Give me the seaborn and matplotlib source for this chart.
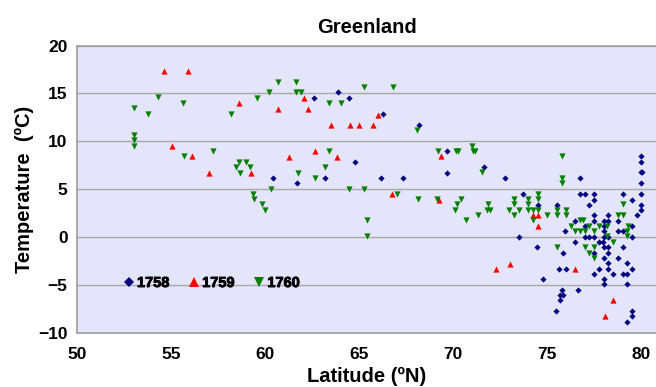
import matplotlib
matplotlib.use("Agg")
import matplotlib.pyplot as plt
import matplotlib.patheffects as pe
from matplotlib.lines import Line2D
import seaborn as sns
import pandas as pd

# ---- data: 1758 ----
lat_1758 = [62.57, 63.85, 64.47, 60.43, 61.69, 63.16, 64.75, 66.24, 68.15, 69.64, 69.64, 66.15, 67.30,
            71.65, 72.75, 76.74, 79.99, 79.99, 79.99, 80.06, 79.99, 79.99, 73.73, 76.74, 77.01, 77.50, 79.01,
            77.50, 79.49, 74.49, 75.50, 77.24, 79.99, 79.99, 77.50, 78.25, 79.76, 76.49, 77.50, 78.02, 78.25,
            78.74, 77.01, 78.02, 79.49, 75.93, 78.02, 78.74, 79.01, 73.50, 77.01, 77.24, 77.50, 78.02, 78.25,
            79.49,
            76.49, 77.75, 77.98, 74.44, 78.02, 78.25, 79.01, 75.84, 77.50, 78.25, 78.02, 78.74, 78.25, 79.26,
            75.64, 76.00, 77.75, 78.25, 79.49, 77.50, 78.51, 79.01, 79.26, 74.79, 78.02, 78.02, 79.26, 75.80,
            76.65, 75.68, 75.85, 75.68, 75.46, 79.49, 79.49, 79.26]
temp_1758 = [14.50, 15.10, 14.50, 6.16, 5.61, 6.16, 7.83, 12.84, 11.72, 9.01, 6.68, 6.16, 6.16,
             7.27, 6.16, 6.16, 8.42, 7.83, 6.75, 6.75, 5.64, 4.49, 4.49, 4.49, 4.49, 4.49, 4.49,
             3.90, 3.90, 3.38, 3.38, 3.38, 3.38, 2.86, 2.27, 2.27, 2.27, 1.71, 1.71, 1.71, 1.71,
             1.71, 1.12, 1.12, 1.12, 0.60, 0.60, 0.60, 0.60, 0.01, 0.01, 0.01, 0.01, 0.01, 0.01,
             0.01,
             -0.51, -0.51, -0.51, -1.07, -1.07, -1.07, -1.07, -1.66, -1.66, -1.66, -2.18, -2.18, -2.74, -2.74,
             -3.30, -3.30, -3.30, -3.30, -3.30, -3.85, -3.85, -3.85, -3.85, -4.37, -4.37, -4.96, -4.96, -5.52,
             -5.52, -6.08, -6.08, -6.63, -7.74, -7.74, -8.27, -8.86]

# ---- data: 1759 ----
lat_1759 = [54.61, 55.91, 58.62, 60.68, 62.04, 62.25, 63.51, 64.51, 65.00, 65.74, 65.97, 55.02, 56.08,
            56.99, 59.24, 61.24, 62.64, 63.83, 69.32, 66.75, 69.24, 74.26, 74.49, 74.49, 72.26, 73.02,
            76.49, 78.51, 78.09]
temp_1759 = [17.29, 17.29, 13.95, 13.39, 14.50, 13.39, 11.72, 11.72, 11.72, 11.72, 12.77, 9.53, 8.42,
             6.72, 6.72, 8.39, 8.94, 8.39, 8.42, 4.50, 3.90, 2.27, 2.27, 1.12, -3.30, -2.81,
             -3.30, -6.63, -8.30]

# ---- data: 1760 ----
lat_1760 = [54.31, 55.60, 53.02, 53.74, 58.19, 59.58, 60.20, 60.68, 61.63, 61.63, 61.90, 63.41, 64.01,
            53.02, 53.02, 53.02, 55.68, 57.24, 58.42, 58.58, 58.67, 58.99, 59.17, 60.32, 59.33, 59.42,
            59.84, 59.98, 61.74, 63.41, 63.18, 62.66, 64.43,
            65.26, 66.81, 68.05, 69.17, 70.12, 70.26, 65.26, 66.98, 68.10, 69.11, 70.18, 70.41, 70.09,
            70.65, 65.39, 65.39,
            70.98, 71.07, 71.16, 71.51, 75.77, 75.77, 75.77, 74.49, 73.25, 73.99, 74.49, 71.83, 73.25,
            73.99, 79.01, 71.78, 71.95, 72.98, 73.50, 73.99, 74.26, 74.49, 75.50, 76.00, 71.30, 73.25,
            75.00, 75.50, 76.00, 78.74, 79.01, 74.26, 76.74, 76.88, 76.24, 77.24, 77.75, 78.16, 79.31,
            76.49, 76.74, 77.01, 77.50, 79.26, 78.16, 79.26,
            75.50, 77.01, 77.50, 78.51, 77.24, 77.50]
temp_1760 = [14.57, 13.98, 13.43, 12.84, 12.84, 14.54, 15.13, 16.17, 16.17, 15.13, 15.13, 13.98, 13.98,
             10.65, 10.09, 9.53, 8.42, 9.01, 7.31, 7.87, 6.72, 7.87, 7.31, 5.05, 4.50, 3.97,
             3.45, 2.86, 6.72, 8.94, 7.28, 6.16, 5.05,
             15.65, 15.65, 11.20, 9.01, 9.01, 9.01, 5.05, 4.50, 3.97, 3.97, 3.45, 3.97, 2.86,
             1.75, 1.75, 0.08,
             9.53, 8.94, 8.94, 6.75, 8.42, 6.16, 5.64, 4.49, 3.97, 3.97, 3.97, 3.45, 3.45,
             3.45, 3.45, 2.86, 2.86, 2.86, 2.86, 2.86, 2.86, 2.86, 2.86, 2.86, 2.27, 2.27,
             2.27, 2.27, 2.27, 2.27, 2.27, 1.75, 1.75, 1.75, 1.12, 1.12, 1.12, 1.12, 1.19,
             0.60, 0.60, 0.60, 0.60, 0.60, 0.08, 0.08,
             -1.07, -1.07, -1.07, -0.51, -1.66, -2.18]

years = ["1758", "1759", "1760"]
colors = {"1758": "#000080", "1759": "#FF0000", "1760": "#008000"}
markers = {"1758": "D", "1759": "^", "1760": "v"}
sizes = {"1758": 10, "1759": 20, "1760": 20}

df = pd.concat([
    pd.DataFrame({"lat": lat_1758, "temp": temp_1758, "year": "1758"}),
    pd.DataFrame({"lat": lat_1759, "temp": temp_1759, "year": "1759"}),
    pd.DataFrame({"lat": lat_1760, "temp": temp_1760, "year": "1760"}),
], ignore_index=True)

sns.set_theme(style="white")
plt.rcParams["font.family"] = ["Liberation Sans", "DejaVu Sans"]
plt.rcParams["text.color"] = "black"
plt.rcParams["axes.labelcolor"] = "black"
plt.rcParams["xtick.color"] = "black"
plt.rcParams["ytick.color"] = "black"

fig = plt.figure(figsize=(6.56, 3.87), dpi=100)
ax = fig.add_axes([0.1178, 0.1403, 0.8822, 0.7421])
ax.set_facecolor("#E4E4FA")

for y in years:
    sub = df[df["year"] == y]
    sns.scatterplot(data=sub, x="lat", y="temp", color=colors[y], marker=markers[y],
                    s=sizes[y], linewidth=0, ax=ax, legend=False, zorder=3)

ax.set_xlim(50, 80.78)
ax.set_ylim(-10, 20)
ax.set_xticks(range(50, 81, 5))
ax.set_yticks(range(-10, 21, 5))
ax.yaxis.grid(True, color="#A8A8A8", linewidth=1)
ax.xaxis.grid(False)
ax.set_axisbelow(True)
for side in ["left", "bottom", "top"]:
    ax.spines[side].set_visible(True)
    ax.spines[side].set_color("#A0A0A0")
    ax.spines[side].set_linewidth(1.2)
ax.spines["right"].set_visible(False)
ax.tick_params(axis="both", direction="out", length=5, width=1, color="#808080",
               labelcolor="black", labelsize=12.5)
ax.tick_params(axis="x", pad=5)
ax.tick_params(axis="y", pad=2)
for lbl in ax.get_xticklabels() + ax.get_yticklabels():
    lbl.set_fontweight("bold")

ax.set_title("Greenland", fontsize=14.5, fontweight="bold", pad=9, color="black")
ax.set_xlabel("Latitude (ºN)", fontsize=14.5, fontweight="bold", labelpad=4)
ax.set_ylabel("Temperature  (ºC)", fontsize=14.5, fontweight="bold", labelpad=3)

handles = [Line2D([], [], linestyle="none", marker=markers[y], color=colors[y],
                  markersize=5.5 if y == "1758" else 7.5, markeredgewidth=0) for y in years]
leg = ax.legend(handles, years, ncol=3, loc="center left", bbox_to_anchor=(0.0817, 0.173),
                frameon=False, borderpad=0, borderaxespad=0, handlelength=0.6,
                handletextpad=0.25, columnspacing=1.4, prop={"weight": "bold", "size": 10.5})
for t in leg.get_texts():
    t.set_color("black")
    t.set_path_effects([pe.withStroke(linewidth=0.6, foreground="black")])

fig.savefig("out.png", dpi=100)
